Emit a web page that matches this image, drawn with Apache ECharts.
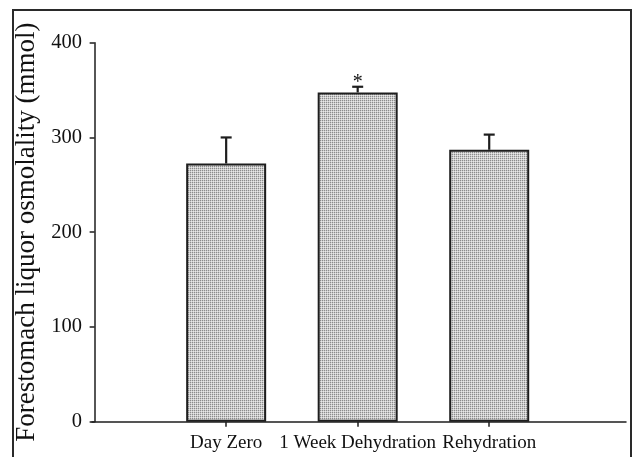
<!DOCTYPE html>
<html>
<head>
<meta charset="utf-8">
<script src="https://cdn.jsdelivr.net/npm/echarts@6/dist/echarts.min.js"></script>
<style>
html,body{margin:0;padding:0;background:#fff;}
#chart{width:635px;height:457px;}
</style>
</head>
<body>
<div id="chart"></div>
<script>
const categories = ['Day Zero', '1 Week Dehydration', 'Rehydration'];
const means = [272.5, 347.5, 287];
const sems = [27.5, 6, 16];
const marks = ['', '*', ''];
const yTicks = [0, 100, 200, 300, 400];
const yTitle = 'Forestomach liquor osmolality (mmol)';

const positions = categories.map((c, i) => i + 1);

// stipple pattern for bar fill
const pc = document.createElement('canvas');
pc.width = 2; pc.height = 2;
const px = pc.getContext('2d');
px.fillStyle = '#e8e8e8'; px.fillRect(0, 0, 2, 2);
px.fillStyle = '#8c8c8c'; px.fillRect(0, 0, 1, 1);
px.fillStyle = '#cccccc'; px.fillRect(1, 0, 1, 1); px.fillRect(0, 1, 1, 1);

const font = 'Liberation Serif';
const ink = '#1e1e1e';

const chart = echarts.init(document.getElementById('chart'), null, {renderer: 'canvas'});
chart.setOption({
  animation: false,
  backgroundColor: '#fff',
  grid: {left: 92, right: 9, top: 42.7, bottom: 35.3},
  graphic: [{
    type: 'rect', silent: true,
    shape: {x: 13, y: 10, width: 618, height: 470},
    style: {fill: 'none', stroke: '#2a2a2a', lineWidth: 2}
  }],
  xAxis: {
    type: 'value', min: -0.02, max: 4.04,
    splitLine: {show: false},
    axisLine: {show: true, onZero: false, lineStyle: {color: ink, width: 1.5}},
    axisTick: {show: true, customValues: positions, length: 5, lineStyle: {color: ink, width: 1.5}},
    axisLabel: {
      customValues: positions, margin: 12,
      fontFamily: font, fontSize: 19, color: '#111',
      formatter: v => categories[Math.round(v) - 1] || ''
    }
  },
  yAxis: {
    type: 'value', min: 0, max: 400, interval: 100,
    splitLine: {show: false},
    axisLine: {show: true, lineStyle: {color: ink, width: 1.5}},
    axisTick: {show: true, length: 5, lineStyle: {color: ink, width: 1.5}},
    axisLabel: {margin: 10, fontFamily: font, fontSize: 20.5, color: '#111',
      formatter: v => yTicks.includes(v) ? String(v) : ''},
    name: yTitle, nameLocation: 'middle', nameGap: 50,
    nameTextStyle: {fontFamily: font, fontSize: 27, color: '#111'}
  },
  series: [{
    type: 'bar',
    barWidth: 80,
    data: positions.map((p, i) => [p, means[i]]),
    itemStyle: {
      color: {image: pc, repeat: 'repeat'},
      borderColor: ink, borderWidth: 2
    },
    z: 2
  }, {
    type: 'custom',
    z: 3,
    data: positions.map((p, i) => [p, means[i], means[i] + sems[i], i]),
    renderItem: function (params, api) {
      const base = api.coord([api.value(0), api.value(1)]);
      const top = api.coord([api.value(0), api.value(2)]);
      const idx = api.value(3);
      const children = [
        {type: 'line', shape: {x1: base[0], y1: base[1], x2: top[0], y2: top[1]},
         style: {stroke: ink, lineWidth: 2.2}},
        {type: 'line', shape: {x1: top[0] - 5.5, y1: top[1], x2: top[0] + 5.5, y2: top[1]},
         style: {stroke: ink, lineWidth: 2.2}}
      ];
      if (marks[idx]) {
        children.push({type: 'text', style: {
          text: marks[idx], x: top[0], y: top[1] - 4,
          align: 'center', verticalAlign: 'middle',
          font: '20px "Liberation Serif"', fill: '#111'}});
      }
      return {type: 'group', children: children};
    }
  }]
});
</script>
</body>
</html>
